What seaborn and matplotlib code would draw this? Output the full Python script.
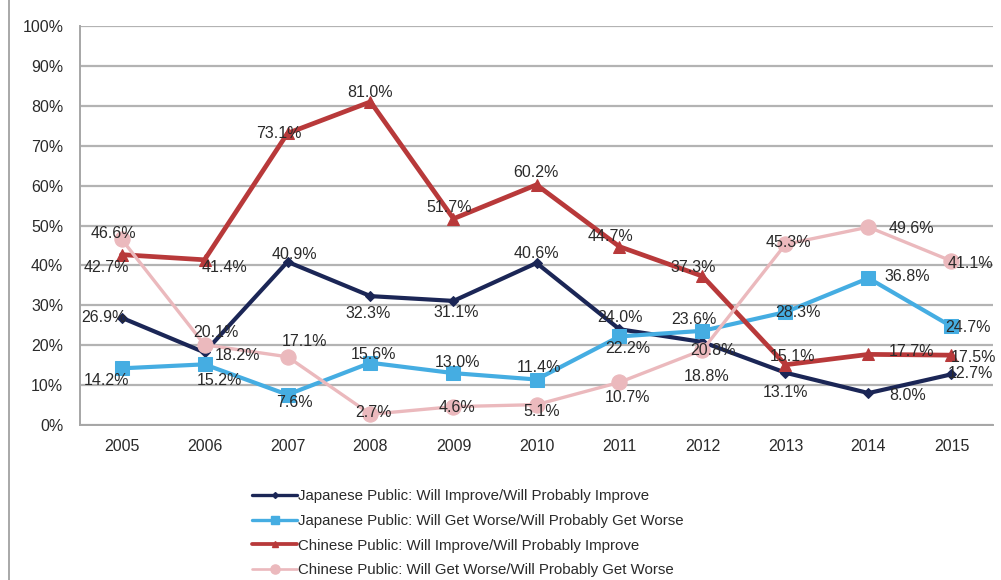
import matplotlib
matplotlib.use("Agg")
import matplotlib.pyplot as plt
from matplotlib.lines import Line2D
import seaborn as sns
import pandas as pd
import numpy as np

years = ["2005", "2006", "2007", "2008", "2009", "2010", "2011", "2012", "2013", "2014", "2015"]
series_names = [
    "Japanese Public: Will Improve/Will Probably Improve",
    "Japanese Public: Will Get Worse/Will Probably Get Worse",
    "Chinese Public: Will Improve/Will Probably Improve",
    "Chinese Public: Will Get Worse/Will Probably Get Worse",
]
jp_improve = [26.9, 18.2, 40.9, 32.3, 31.1, 40.6, 24.0, 20.8, 13.1, 8.0, 12.7]
jp_worse = [14.2, 15.2, 7.6, 15.6, 13.0, 11.4, 22.2, 23.6, 28.3, 36.8, 24.7]
cn_improve = [42.7, 41.4, 73.1, 81.0, 51.7, 60.2, 44.7, 37.3, 15.1, 17.7, 17.5]
cn_worse = [46.6, 20.1, 17.1, 2.7, 4.6, 5.1, 10.7, 18.8, 45.3, 49.6, 41.1]
y_ticks = [0, 10, 20, 30, 40, 50, 60, 70, 80, 90, 100]

all_values = [jp_improve, jp_worse, cn_improve, cn_worse]

# styling (kept separate from data)
colors = ["#1b2656", "#45ade2", "#b8393a", "#ebb9bd"]
markers = ["D", "s", "^", "o"]
msizes = [5, 10, 8, 11]
lwidths = [3.0, 3.0, 3.4, 2.4]
# label offsets in pixels (dx, dy) relative to each point
label_offsets = [
    [(-18, 0), (33, -3), (7, 7), (-2, -17), (3, -12), (0, 10), (1, 12), (11, -8), (0, -20), (39, -2), (19, 1)],
    [(-15, -12), (15, -16), (7, -8), (3, 8), (4, 11), (2, 12), (8, -12), (-9, 11), (13, 0), (39, 2), (17, -1)],
    [(-15, -13), (20, -8), (-9, 0), (0, 9), (-4, 11), (-1, 12), (-9, 10), (-9, 9), (7, 8), (43, 3), (22, -2)],
    [(-8, 6), (11, 12), (17, 15), (3, 2), (4, -1), (5, -7), (8, -15), (4, -27), (3, 2), (43, -1), (19, -2)],
]

rows = []
for name, vals in zip(series_names, all_values):
    for i, v in enumerate(vals):
        rows.append({"pos": i, "value": v, "series": name})
df = pd.DataFrame(rows)

sns.set_theme(style="white")
plt.rcParams["font.family"] = ["Liberation Sans", "DejaVu Sans"]

fig = plt.figure(figsize=(10.01, 5.80), dpi=100)
ax = fig.add_axes([80 / 1001, 1 - 425 / 580, 913 / 1001, 399 / 580])

for k, name in enumerate(series_names):
    sub = df[df["series"] == name]
    sns.lineplot(data=sub, x="pos", y="value", ax=ax, color=colors[k],
                 marker=markers[k], markersize=msizes[k], linewidth=lwidths[k],
                 markeredgecolor=colors[k], legend=False, zorder=3)

for k, vals in enumerate(all_values):
    for i, v in enumerate(vals):
        dx, dy = label_offsets[k][i]
        ax.annotate(f"{v:.1f}%", (i, v), xytext=(dx, dy), textcoords="offset pixels",
                    ha="center", va="center", fontsize=11.5, color="#2a2a2a", zorder=10)

ax.set_xlim(-0.5, len(years) - 0.5)
ax.set_ylim(0, 100)
ax.set_yticks(y_ticks)
ax.set_yticklabels([f"{t}%" for t in y_ticks], fontsize=11.5, color="#2a2a2a")
ax.set_xticks(range(len(years)))
ax.set_xticklabels(years, fontsize=11.5, color="#2a2a2a")
ax.set_xticks(np.arange(-0.5, len(years), 1.0), minor=True)
ax.tick_params(axis="x", which="major", length=0, pad=10)
ax.tick_params(axis="x", which="minor", length=5, color="#999999", width=1.2, direction="out")
ax.tick_params(axis="y", which="major", length=6, color="#999999", width=1.2, direction="out", pad=6)
ax.set_xlabel("")
ax.set_ylabel("")
ax.grid(axis="y", color="#b3b3b3", linewidth=1.6)
ax.set_axisbelow(True)
for side in ["top", "right"]:
    ax.spines[side].set_visible(False)
for side in ["left", "bottom"]:
    ax.spines[side].set_color("#a6a6a6")
    ax.spines[side].set_linewidth(1.4)

handles = [Line2D([0], [0], color=colors[k], marker=markers[k], markersize=msizes[k] * 0.6,
                  linewidth=lwidths[k] * 0.8, markeredgecolor=colors[k]) for k in range(4)]
fig.legend(handles, series_names, loc="upper left", bbox_to_anchor=(246 / 1001, 1 - 483 / 580),
           frameon=False, fontsize=10.8, handlelength=3.0, handletextpad=0.1,
           labelspacing=0.72, borderaxespad=0, labelcolor="#2a2a2a")

fig.add_artist(Line2D([9 / 1001, 9 / 1001], [0, 1], color="#9a9a9a", linewidth=1.2,
                      transform=fig.transFigure))

fig.savefig("out.png", dpi=100)
